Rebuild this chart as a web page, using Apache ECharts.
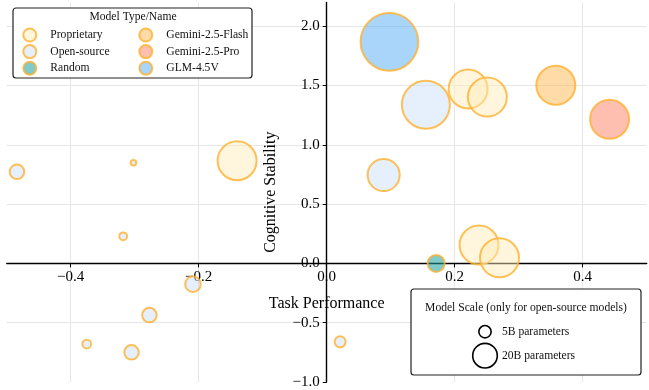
<!DOCTYPE html>
<html><head><meta charset="utf-8">
<script src="https://cdn.jsdelivr.net/npm/echarts@6/dist/echarts.min.js"></script>
<style>html,body{margin:0;padding:0;background:#fff}#c{width:649px;height:390px}</style>
</head><body><div id="c"></div>
<script>
// ---- data ----
const proprietaryX = [-0.140, 0.221, 0.251, 0.238, 0.270];
const proprietaryY = [0.865, 1.470, 1.402, 0.154, 0.047];
const openX = [-0.484, -0.302, -0.318, -0.209, -0.277, -0.375, -0.305, 0.021, 0.089, 0.155];
const openY = [0.772, 0.848, 0.228, -0.175, -0.436, -0.680, -0.750, -0.661, 0.745, 1.337];
const openParamsB = [7, 1, 2, 8, 7, 2.5, 7, 4, 34, 76];
const randomX = [0.171];
const randomY = [0.0];
const geminiFlashX = [0.358];
const geminiFlashY = [1.501];
const geminiProX = [0.442];
const geminiProY = [1.214];
const glmX = [0.098];
const glmY = [1.868];
const glmParamsB = [110];
const scaleLegendB = [5, 20];
const typeNames = ['Proprietary', 'Open-source', 'Random', 'Gemini-2.5-Flash', 'Gemini-2.5-Pro', 'GLM-4.5V'];
const xRange = [-0.5, 0.5];
const yRange = [-1.0, 2.2];

// ---- helpers ----
const FONT = '"Liberation Serif", "DejaVu Serif", serif';
const K = 5.5;
const sizeFromB = b => K * Math.sqrt(b);
const zip = (xs, ys, zs) => xs.map((x, i) => zs ? [x, ys[i], zs[i]] : [x, ys[i]]);
const fmt = v => (v < 0 ? '\u2212' : '') + Math.abs(v).toFixed(1);
const border = '#FFB02E';

function sc(name, data, fill, size) {
  return {
    type: 'scatter', name, data,
    symbolSize: size,
    itemStyle: { color: fill, borderColor: border, borderWidth: 2 },
    emphasis: { disabled: true }
  };
}

const chart = echarts.init(document.getElementById('c'), null, { renderer: 'canvas' });
const scaleCx = 485;
const LFS = 11.6;
const legendText = { fontFamily: FONT, fontSize: LFS, color: '#111', lineHeight: 12 };
const option = {
  animation: false,
  backgroundColor: '#fff',
  textStyle: { fontFamily: FONT },
  grid: { left: 6.7, right: 2.3, top: 2.4, bottom: 8, containLabel: false, outerBoundsMode: 'none' },
  xAxis: {
    type: 'value', min: xRange[0], max: xRange[1], position: 'bottom',
    name: 'Task Performance', nameLocation: 'middle', nameGap: 32,
    nameTextStyle: { fontFamily: FONT, fontSize: 16, color: '#000' },
    axisLine: { onZero: false, lineStyle: { color: '#000', width: 1.4 } },
    axisTick: { show: true, length: 4, lineStyle: { color: '#000' } },
    axisLabel: { fontFamily: FONT, fontSize: 15, color: '#000', margin: 6, formatter: fmt, showMinLabel: false, showMaxLabel: false },
    splitLine: { show: true, showMinLine: false, showMaxLine: false, lineStyle: { color: '#e6e6e6', width: 1 } }
  },
  yAxis: {
    type: 'value', min: yRange[0], max: yRange[1], position: 'left',
    name: 'Cognitive Stability', nameLocation: 'middle', nameGap: 48,
    nameTextStyle: { fontFamily: FONT, fontSize: 16, color: '#000' },
    axisLine: { onZero: false, lineStyle: { color: '#000', width: 1.4 } },
    axisTick: { show: true, length: 4, lineStyle: { color: '#000' } },
    axisLabel: { fontFamily: FONT, fontSize: 15, color: '#000', margin: 7, formatter: fmt, showMaxLabel: false },
    splitLine: { show: true, showMinLine: false, showMaxLine: false, lineStyle: { color: '#e6e6e6', width: 1 } }
  },
  legend: [
    {
      data: typeNames.slice(0, 3), orient: 'vertical', left: 22.3, top: 27.5, padding: 0,
      itemWidth: 31, itemHeight: 13, itemGap: 1.6, icon: 'circle', z: 10,
      textStyle: legendText, selectedMode: false
    },
    {
      data: typeNames.slice(3), orient: 'vertical', left: 138.3, top: 27.5, padding: 0,
      itemWidth: 31, itemHeight: 13, itemGap: 1.6, icon: 'circle', z: 10,
      textStyle: legendText, selectedMode: false
    }
  ],
  graphic: [
    { type: 'rect', z: 5, shape: { x: 13, y: 8, width: 239, height: 70, r: 3 }, style: { fill: '#fff', stroke: '#222', lineWidth: 1.2 } },
    { type: 'text', z: 6, x: 133, y: 17, style: { text: 'Model Type/Name', font: LFS + 'px ' + FONT, fill: '#111', align: 'center', verticalAlign: 'middle' } },
    { type: 'rect', z: 5, shape: { x: 411, y: 289, width: 230, height: 86, r: 3 }, style: { fill: '#fff', stroke: '#222', lineWidth: 1.2 } },
    { type: 'text', z: 6, x: 526, y: 308, style: { text: 'Model Scale (only for open-source models)', font: LFS + 'px ' + FONT, fill: '#111', align: 'center', verticalAlign: 'middle' } },
    { type: 'circle', z: 6, shape: { cx: scaleCx, cy: 331.7, r: sizeFromB(scaleLegendB[0]) / 2 }, style: { fill: '#fff', stroke: '#000', lineWidth: 1.6 } },
    { type: 'text', z: 6, x: 502, y: 331.7, style: { text: scaleLegendB[0] + 'B parameters', font: LFS + 'px ' + FONT, fill: '#111', verticalAlign: 'middle' } },
    { type: 'circle', z: 6, shape: { cx: scaleCx, cy: 355.7, r: sizeFromB(scaleLegendB[1]) / 2 }, style: { fill: '#fff', stroke: '#000', lineWidth: 1.6 } },
    { type: 'text', z: 6, x: 502, y: 355.7, style: { text: scaleLegendB[1] + 'B parameters', font: LFS + 'px ' + FONT, fill: '#111', verticalAlign: 'middle' } }
  ],
  series: [
    sc(typeNames[0], zip(proprietaryX, proprietaryY), 'rgba(255,237,184,0.6)', 39),
    sc(typeNames[1], zip(openX, openY, openParamsB), 'rgba(200,224,248,0.6)', v => sizeFromB(v[2])),
    sc(typeNames[2], zip(randomX, randomY), 'rgba(30,160,160,0.7)', 17),
    sc(typeNames[3], zip(geminiFlashX, geminiFlashY), 'rgba(255,190,100,0.7)', 39),
    sc(typeNames[4], zip(geminiProX, geminiProY), 'rgba(255,140,115,0.7)', 39),
    sc(typeNames[5], zip(glmX, glmY, glmParamsB), 'rgba(100,180,245,0.7)', v => sizeFromB(v[2]))
  ]
};
chart.setOption(option);
// move both axes (line, ticks, labels, names) so they cross at the origin
const pOrigin = chart.convertToPixel({ gridIndex: 0 }, [0, 0]);
const pMin = chart.convertToPixel({ gridIndex: 0 }, [xRange[0], yRange[0]]);
chart.setOption({
  xAxis: { offset: -(pMin[1] - pOrigin[1]) },
  yAxis: { offset: -(pOrigin[0] - pMin[0]) }
});
</script>
</body></html>
